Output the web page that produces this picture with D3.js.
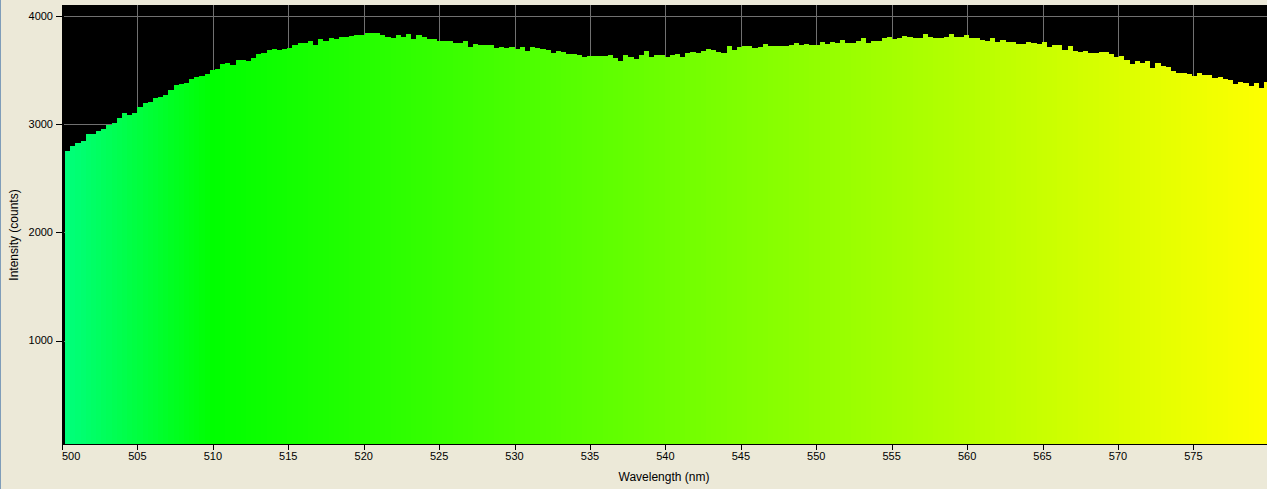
<!DOCTYPE html>
<html>
<head>
<meta charset="utf-8">
<script src="https://cdn.jsdelivr.net/npm/d3@7"></script>
<style>
html,body{margin:0;padding:0;background:#ECE9D8;}
svg{display:block;}
text{font-family:"Liberation Sans",Arial,sans-serif;fill:#000;}
</style>
</head>
<body>
<svg id="chart" width="1267" height="489"></svg>
<script>
// ---- data ----
const startWavelength = 500.2;   // nm, left edge of first detector bin
const binWidthNm = 0.3426;       // nm per detector bin
const intensity = [
2753,2800,2827,2846,2910,2910,2938,2956,2993,3012,3058,3104,3086,3104,3160,3197,3206,3243,3252,3270,
3317,3363,3372,3381,3418,3437,3446,3464,3501,3511,3557,3566,3547,3594,3594,3584,3612,
3649,3658,3686,3695,3686,3695,3705,3732,3751,3751,3769,3732,3788,3769,3797,3788,3806,3806,3815,3825,
3825,3843,3843,3843,3825,3806,3797,3825,3806,3834,3788,3825,3806,3788,3788,3769,3769,3769,3751,3751,
3769,3714,3742,3732,3732,3732,3705,3714,3705,3714,3695,3714,3677,3714,3705,3695,3686,3658,3677,3668,
3649,3649,3640,3622,3631,3631,3631,3631,3640,3612,3585,3640,3622,3603,3640,3677,3622,
3640,3640,3622,3640,3649,3622,3658,3668,3658,3677,3695,3686,3668,3658,3723,3686,3714,3723,3723,3705,
3714,3742,3723,3723,3723,3723,3732,3751,3732,3742,3732,3732,3760,3742,3760,3751,3778,3751,3751,
3769,3797,3751,3769,3769,3797,3806,3788,3797,3815,3806,3797,3797,3834,3806,3797,3797,3806,3834,3806,
3806,3825,3797,3797,3778,3769,3797,3760,3778,3760,3760,3742,3742,3760,3751,3742,3760,3714,3732,
3732,3686,3723,3677,3668,3677,3659,3659,3668,3668,3649,3622,3631,3594,3557,3585,3566,3585,3520,3566,
3539,3529,3492,3474,3474,3465,3446,3474,3455,3455,3428,3437,3419,3409,3372,3391,3382,3354,3382,3335,3391
];
const xTicks = [500,505,510,515,520,525,530,535,540,545,550,555,560,565,570,575];
const yTicks = [1000,2000,3000,4000];
const xTitle = "Wavelength (nm)";
const yTitle = "Intensity (counts)";

// ---- layout ----
const svg = d3.select("#chart");
const plot = {left:62, right:1267, top:5, bottom:444};

const x = d3.scaleLinear().domain([500, 579.88]).range([plot.left, plot.right]);
const y = d3.scaleLinear().domain([45, 4100]).range([plot.bottom, plot.top]);

function specColor(w){
  if (w < 510) return d3.rgb(0, 255, Math.round(255*(510-w)/20));
  const r = Math.max(0, Math.min(255, Math.round(255*(w-510)/70)));
  return d3.rgb(r, 255, 0);
}

// window border line at left
svg.append("rect").attr("x",0).attr("y",0).attr("width",1).attr("height",489).attr("fill","#7F9DB9");

// plot background
svg.append("rect").attr("x",plot.left).attr("y",plot.top)
  .attr("width",plot.right-plot.left).attr("height",plot.bottom-plot.top).attr("fill","#000");

// grid
const gGrid = svg.append("g").attr("shape-rendering","crispEdges");
gGrid.selectAll("line.v").data(xTicks.filter(t=>t>500)).join("line")
  .attr("x1",d=>Math.round(x(d))+0.5).attr("x2",d=>Math.round(x(d))+0.5)
  .attr("y1",plot.top).attr("y2",plot.bottom).attr("stroke","#707070");
gGrid.selectAll("line.h").data(yTicks).join("line")
  .attr("y1",d=>Math.round(y(d))+0.5).attr("y2",d=>Math.round(y(d))+0.5)
  .attr("x1",plot.left).attr("x2",plot.right).attr("stroke","#707070");

// bars
const clip = svg.append("clipPath").attr("id","pc").append("rect")
  .attr("x",plot.left+2).attr("y",plot.top).attr("width",plot.right-plot.left-2).attr("height",plot.bottom-plot.top);
const bars = intensity.map((v,i)=>({w0:startWavelength+i*binWidthNm, w1:startWavelength+(i+1)*binWidthNm, v}));
svg.append("g").attr("clip-path","url(#pc)").attr("shape-rendering","crispEdges")
  .selectAll("rect").data(bars).join("rect")
  .attr("x",d=>Math.round(x(d.w0)))
  .attr("width",d=>Math.round(x(d.w1))-Math.round(x(d.w0)))
  .attr("y",d=>Math.round(y(d.v)))
  .attr("height",d=>plot.bottom-Math.round(y(d.v)))
  .attr("fill",d=>specColor((d.w0+d.w1)/2));

// axes lines
svg.append("rect").attr("x",plot.left).attr("y",plot.top).attr("width",2).attr("height",plot.bottom-plot.top+1).attr("fill","#000");
svg.append("rect").attr("x",plot.left).attr("y",plot.bottom).attr("width",plot.right-plot.left).attr("height",1).attr("fill","#000");

// y ticks
const gy = svg.append("g").attr("shape-rendering","crispEdges");
gy.selectAll("line").data(yTicks).join("line")
  .attr("x1",56).attr("x2",plot.left).attr("y1",d=>Math.round(y(d))+0.5).attr("y2",d=>Math.round(y(d))+0.5)
  .attr("stroke","#000");
svg.append("g").selectAll("text").data(yTicks).join("text")
  .attr("x",53).attr("y",d=>y(d)).attr("dy","0.35em").attr("text-anchor","end")
  .style("font-size","11px").text(d=>d);

// x ticks
const gx = svg.append("g").attr("shape-rendering","crispEdges");
gx.selectAll("line").data(xTicks).join("line")
  .attr("x1",d=>Math.round(x(d))+0.5).attr("x2",d=>Math.round(x(d))+0.5)
  .attr("y1",plot.bottom).attr("y2",plot.bottom+6).attr("stroke","#000");
svg.append("g").selectAll("text").data(xTicks).join("text")
  .attr("x",(d,i)=> i===0 ? x(d) : x(d)).attr("y",460)
  .attr("text-anchor",(d,i)=> i===0 ? "start" : "middle")
  .style("font-size","11px").text(d=>d);

// titles
svg.append("text").attr("x",664).attr("y",481).attr("text-anchor","middle")
  .style("font-size","12px").text(xTitle);
svg.append("text").attr("transform","translate(18,235) rotate(-90)").attr("text-anchor","middle")
  .style("font-size","12px").text(yTitle);
</script>
</body>
</html>
